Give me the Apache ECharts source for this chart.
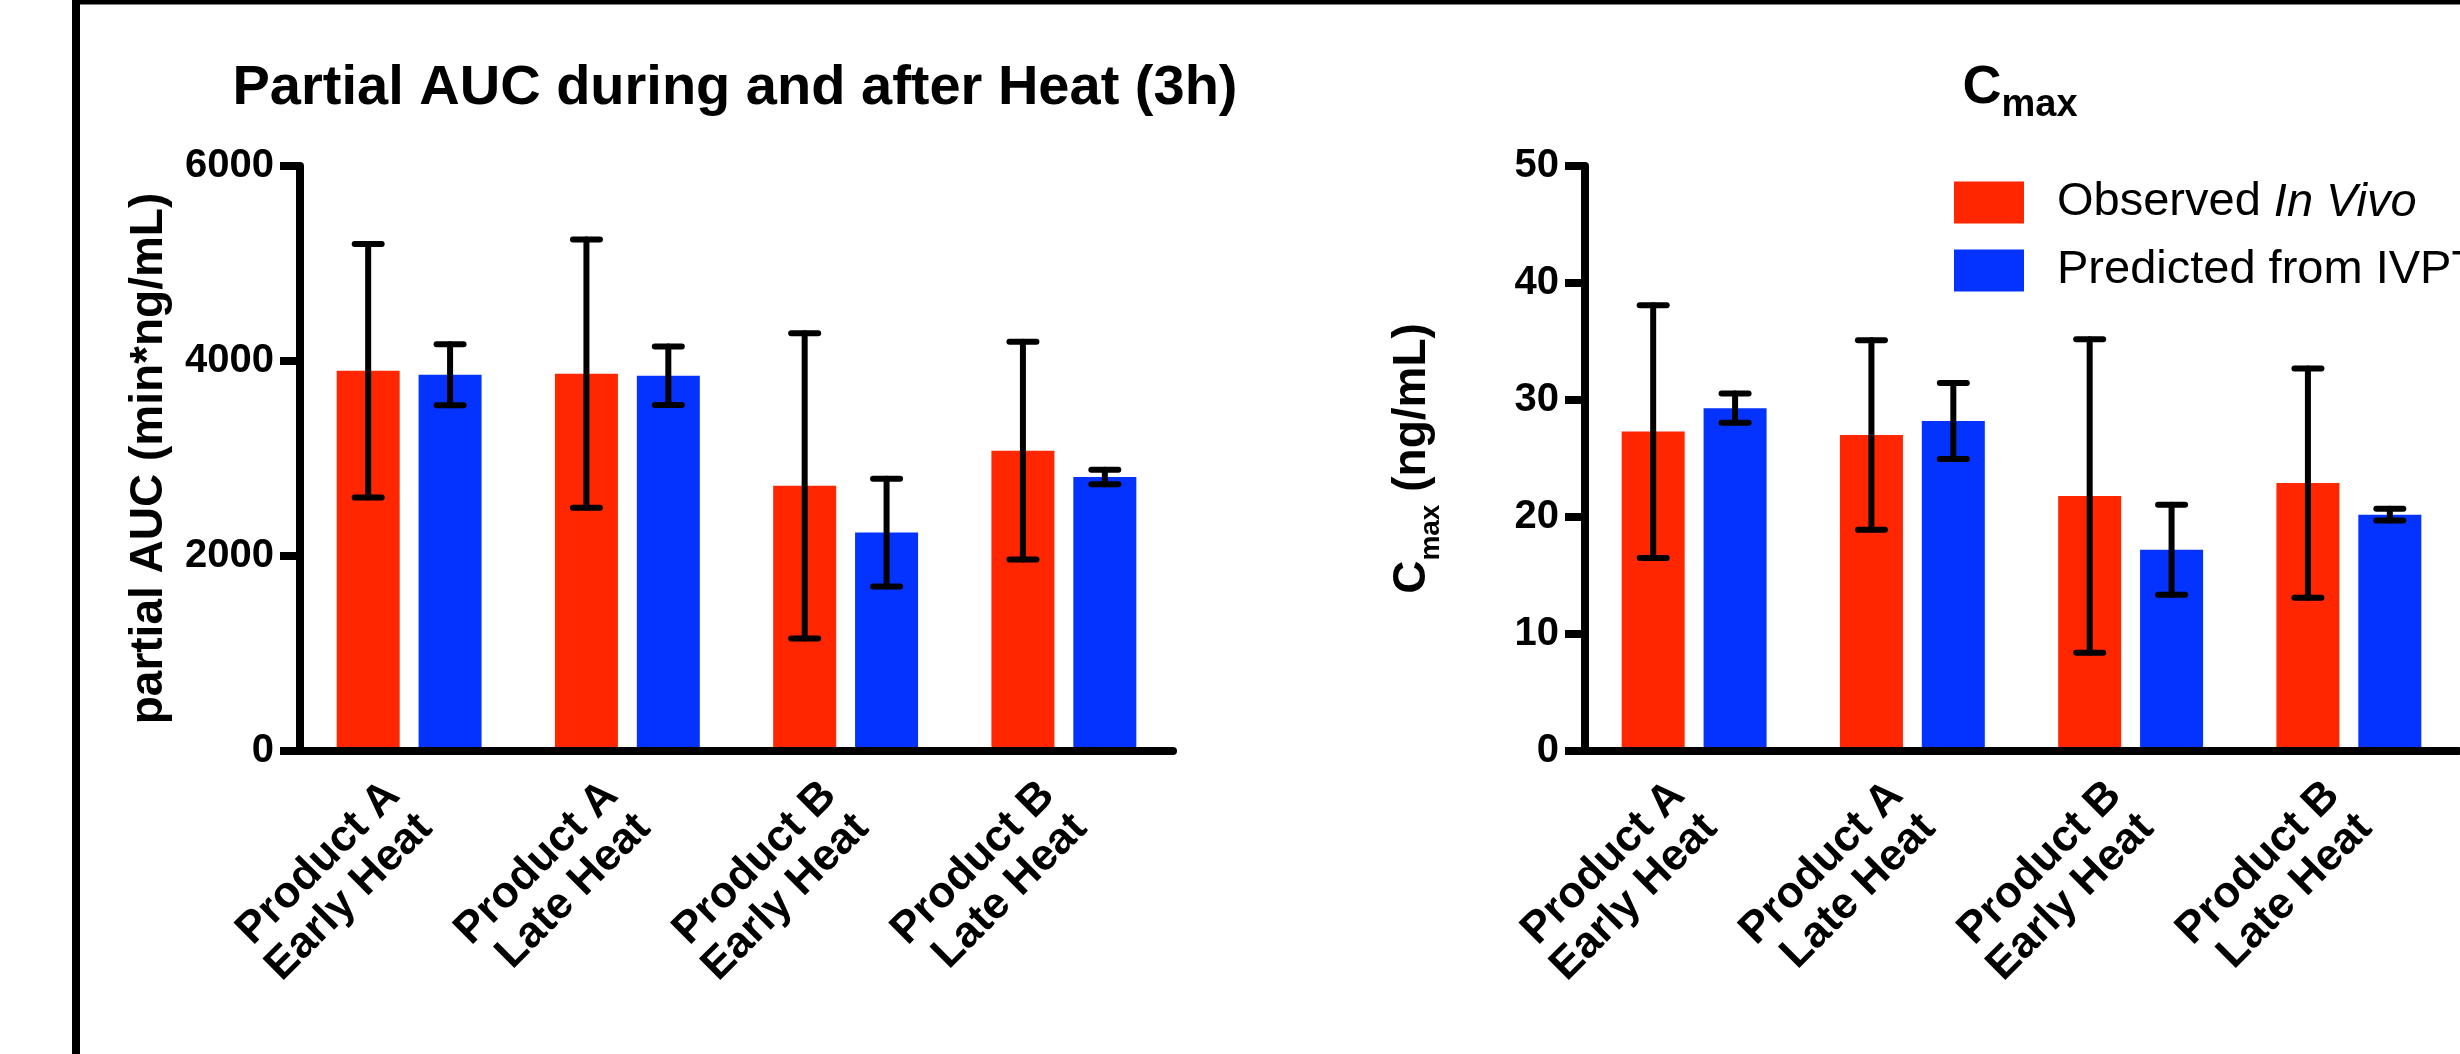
<!DOCTYPE html>
<html>
<head>
<meta charset="utf-8">
<title>Partial AUC and Cmax</title>
<script src="https://cdn.jsdelivr.net/npm/echarts@6/dist/echarts.min.js"></script>
<style>
  html, body { margin: 0; padding: 0; background: #fff; }
  #chart { width: 2460px; height: 1054px; }
</style>
</head>
<body>
<div id="chart"></div>
<script>
var categories = ["Product A\nEarly Heat", "Product A\nLate Heat", "Product B\nEarly Heat", "Product B\nLate Heat"];

// partial AUC (min*ng/mL), mean and SD
var aucObserved = [3900, 3870, 2720, 3080];
var aucObservedSd = [1300, 1375, 1565, 1117];
var aucPredicted = [3860, 3850, 2240, 2810];
var aucPredictedSd = [313, 300, 552, 75];

// Cmax (ng/mL), mean and SD
var cmaxObserved = [27.3, 27.0, 21.8, 22.9];
var cmaxObservedSd = [10.8, 8.1, 13.4, 9.8];
var cmaxPredicted = [29.3, 28.2, 17.2, 20.2];
var cmaxPredictedSd = [1.25, 3.25, 3.85, 0.5];

var aucTicks = { min: 0, max: 6000, interval: 2000 };
var cmaxTicks = { min: 0, max: 50, interval: 10 };

var FONT = "Liberation Sans, Arial, Helvetica, sans-serif";
var RED = "#FF2600";
var BLUE = "#0433FF";
var BAR_W = 63;
var BAR_GAP = 0.3;

function errorData(mean, sd) {
  return mean.map(function (m, i) {
    return [i, m - sd[i], m + sd[i]];
  });
}

// side: -1 for the left bar of a group, 1 for the right one
function errorBar(side) {
  return function (params, api) {
    var off = side * BAR_W * (1 + BAR_GAP) / 2;
    var lo = api.coord([api.value(0), api.value(1)]);
    var hi = api.coord([api.value(0), api.value(2)]);
    var x = lo[0] + off;
    var half = 13.5;
    var style = { stroke: "#000", lineWidth: 6, lineCap: "round" };
    return {
      type: "group",
      children: [
        { type: "line", shape: { x1: x, y1: lo[1], x2: x, y2: hi[1] }, style: style },
        { type: "line", shape: { x1: x - half, y1: hi[1], x2: x + half, y2: hi[1] }, style: style },
        { type: "line", shape: { x1: x - half, y1: lo[1], x2: x + half, y2: lo[1] }, style: style }
      ]
    };
  };
}

function catAxis(gridIndex) {
  return {
    type: "category",
    gridIndex: gridIndex,
    data: categories,
    z: 3,
    axisLine: { lineStyle: { color: "#000", width: 8 } },
    axisTick: { alignWithLabel: true, length: 22, lineStyle: { color: "#000", width: 8 } },
    axisLabel: {
      interval: 0,
      rotate: 45,
      margin: 54,
      color: "#000",
      fontFamily: FONT,
      fontWeight: "bold",
      fontSize: 44,
      lineHeight: 46
    }
  };
}

function valAxis(gridIndex, ticks, name, nameGap, rich) {
  return {
    type: "value",
    gridIndex: gridIndex,
    min: ticks.min,
    max: ticks.max,
    interval: ticks.interval,
    name: name,
    nameLocation: "middle",
    nameRotate: 90,
    nameGap: nameGap,
    nameTextStyle: {
      color: "#000",
      fontFamily: FONT,
      fontWeight: "bold",
      fontSize: 46,
      rich: rich
    },
    z: 3,
    splitLine: { show: false },
    axisLine: { show: true, lineStyle: { color: "#000", width: 8 } },
    axisTick: { show: true, length: 20, lineStyle: { color: "#000", width: 8 } },
    axisLabel: {
      margin: 26,
      color: "#000",
      fontFamily: FONT,
      fontWeight: "bold",
      fontSize: 40,
      formatter: function (v) { return String(v); }
    }
  };
}

var subRich = {
  c: { fontFamily: FONT, fontWeight: "bold", fontSize: 46, lineHeight: 46, verticalAlign: "top" },
  s: { fontFamily: FONT, fontWeight: "bold", fontSize: 28, lineHeight: 28, verticalAlign: "top", padding: [28, 0, 0, 0] }
};

var chart = echarts.init(document.getElementById("chart"));

var option = {
  animation: false,
  backgroundColor: "#fff",
  textStyle: { fontFamily: FONT },
  title: [
    {
      text: "Partial AUC during and after Heat (3h)",
      left: 735,
      top: 61,
      textAlign: "center",
      padding: 0,
      textStyle: { color: "#000", fontFamily: FONT, fontWeight: "bold", fontSize: 56, lineHeight: 56 }
    },
    {
      text: "{c|C}{s|max}",
      left: 2020,
      top: 61,
      textAlign: "center",
      padding: 0,
      textStyle: {
        color: "#000",
        rich: {
          c: { color: "#000", fontFamily: FONT, fontWeight: "bold", fontSize: 54, lineHeight: 54, verticalAlign: "top" },
          s: { color: "#000", fontFamily: FONT, fontWeight: "bold", fontSize: 38, lineHeight: 38, verticalAlign: "top", padding: [26, 0, 0, 0] }
        }
      }
    }
  ],
  legend: {
    data: ["Observed In Vivo", "Predicted from IVPT"],
    orient: "vertical",
    left: 1954,
    top: 179,
    padding: 0,
    icon: "rect",
    itemWidth: 70,
    itemHeight: 42,
    itemGap: 21,
    selectedMode: false,
    formatter: function (name) {
      if (name === "Observed In Vivo") {
        return "{o|Observed }{i|In Vivo}";
      }
      return "{o|" + name + "}";
    },
    textStyle: {
      color: "#000",
      fontSize: 47,
      lineHeight: 47,
      rich: {
        o: { color: "#000", fontFamily: FONT, fontSize: 47, lineHeight: 47, padding: [0, 0, 0, 28] },
        i: { color: "#000", fontFamily: FONT, fontSize: 47, lineHeight: 47, fontStyle: "italic" }
      }
    }
  },
  grid: [
    { left: 300, top: 166, width: 873, height: 585 },
    { left: 1585, top: 166, width: 873, height: 585 }
  ],
  xAxis: [catAxis(0), catAxis(1)],
  yAxis: [
    valAxis(0, aucTicks, "partial AUC (min*ng/mL)", 128),
    valAxis(1, cmaxTicks, "{c|C}{s|max}{c| (ng/mL)}", 150, subRich)
  ],
  series: [
    { name: "Observed In Vivo", type: "bar", xAxisIndex: 0, yAxisIndex: 0, data: aucObserved, barWidth: BAR_W, barGap: BAR_GAP * 100 + "%", itemStyle: { color: RED } },
    { name: "Predicted from IVPT", type: "bar", xAxisIndex: 0, yAxisIndex: 0, data: aucPredicted, barWidth: BAR_W, barGap: BAR_GAP * 100 + "%", itemStyle: { color: BLUE } },
    { name: "Observed In Vivo", type: "bar", xAxisIndex: 1, yAxisIndex: 1, data: cmaxObserved, barWidth: BAR_W, barGap: BAR_GAP * 100 + "%", itemStyle: { color: RED } },
    { name: "Predicted from IVPT", type: "bar", xAxisIndex: 1, yAxisIndex: 1, data: cmaxPredicted, barWidth: BAR_W, barGap: BAR_GAP * 100 + "%", itemStyle: { color: BLUE } },
    { type: "custom", xAxisIndex: 0, yAxisIndex: 0, z: 5, renderItem: errorBar(-1), encode: { x: 0, y: [1, 2] }, data: errorData(aucObserved, aucObservedSd) },
    { type: "custom", xAxisIndex: 0, yAxisIndex: 0, z: 5, renderItem: errorBar(1), encode: { x: 0, y: [1, 2] }, data: errorData(aucPredicted, aucPredictedSd) },
    { type: "custom", xAxisIndex: 1, yAxisIndex: 1, z: 5, renderItem: errorBar(-1), encode: { x: 0, y: [1, 2] }, data: errorData(cmaxObserved, cmaxObservedSd) },
    { type: "custom", xAxisIndex: 1, yAxisIndex: 1, z: 5, renderItem: errorBar(1), encode: { x: 0, y: [1, 2] }, data: errorData(cmaxPredicted, cmaxPredictedSd) }
  ],
  graphic: [
    // outer frame, only its top and left edges fall inside the picture
    { type: "line", shape: { x1: 76, y1: 0, x2: 76, y2: 1054 }, style: { stroke: "#000", lineWidth: 8 } },
    { type: "line", shape: { x1: 72, y1: 2, x2: 2460, y2: 2 }, style: { stroke: "#000", lineWidth: 5 } }
  ]
};

chart.setOption(option);
</script>
</body>
</html>
